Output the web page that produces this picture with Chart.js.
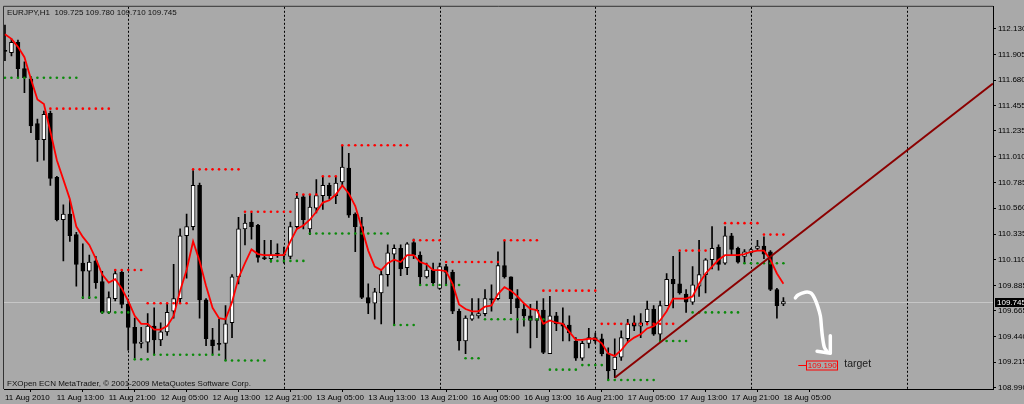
<!DOCTYPE html>
<html>
<head>
<meta charset="utf-8">
<script src="https://cdn.jsdelivr.net/npm/chart.js@4.4.0/dist/chart.umd.min.js"></script>
<style>
  html, body { margin: 0; padding: 0; background: #a9a9a9; }
  #wrap { width: 1024px; height: 404px; }
</style>
</head>
<body>
<div id="wrap"><canvas id="chart"></canvas></div>
<script>
// EURJPY H1, one candle per hour, bar 0 = 11 Aug 2010 05:00
const opens = [
  111.94,111.92,112.01,111.78,111.69,111.30,111.16,111.39,110.83,110.46,
  110.51,110.33,110.08,110.01,110.10,109.92,109.65,109.77,110.00,109.72,
  109.52,109.38,109.39,109.53,109.41,109.48,109.66,109.77,110.32,110.40,
  110.76,109.76,109.41,109.38,109.38,109.56,109.96,110.38,110.44,110.41,
  110.13,110.12,110.165,110.15,110.14,110.40,110.66,110.38,110.56,110.67,
  110.76,110.67,110.79,110.91,110.51,110.40,109.78,109.73,109.82,109.98,
  110.16,110.21,110.04,110.26,110.15,109.96,110.02,109.86,110.05,110.00,
  109.66,109.40,109.59,109.62,109.64,109.77,109.77,110.06,109.96,109.77,
  109.68,109.62,109.58,109.67,109.29,109.62,109.55,109.54,109.40,109.25,
  109.38,109.43,109.42,109.29,109.15,109.26,109.42,109.56,109.53,109.57,
  109.68,109.46,109.71,109.94,109.90,109.81,109.74,109.88,109.98,110.11,
  110.22,110.08,110.32,110.21,110.14,110.17,110.21,110.23,110.18,109.85,109.725
];
const highs = [
  112.16,112.04,112.03,111.84,111.71,111.34,111.41,111.41,110.84,110.59,
  110.63,110.35,110.25,110.15,110.14,110.01,109.83,110.02,110.02,109.75,
  109.60,109.52,109.64,109.69,109.56,109.73,110.07,110.38,110.51,110.89,
  110.78,109.77,109.51,109.59,109.71,109.98,110.48,110.51,110.52,110.42,
  110.28,110.28,110.25,110.22,110.44,110.70,110.68,110.68,110.81,110.84,
  110.78,110.84,111.11,111.04,110.52,110.48,109.90,109.86,110.02,110.24,
  110.24,110.24,110.26,110.29,110.18,110.08,110.08,110.08,110.07,110.02,
  109.68,109.62,109.77,109.77,109.85,109.89,110.18,110.27,109.96,109.85,
  109.73,109.72,109.75,109.77,109.79,109.65,109.69,109.62,109.43,109.40,
  109.51,109.47,109.46,109.34,109.42,109.49,109.59,109.62,109.64,109.75,
  109.71,109.75,109.99,110.14,110.18,109.85,110.05,110.28,110.12,110.40,
  110.24,110.40,110.34,110.22,110.20,110.21,110.28,110.31,110.19,109.86,109.78
];
const lows = [
  111.85,111.89,111.71,111.57,111.22,110.97,110.98,110.76,110.45,110.10,
  110.27,109.88,109.77,109.77,109.86,109.64,109.64,109.75,109.69,109.32,
  109.25,109.34,109.30,109.29,109.36,109.45,109.60,109.73,109.95,110.37,
  109.60,109.36,109.29,109.32,109.23,109.43,109.90,110.24,110.29,110.09,
  110.11,110.09,110.13,110.08,110.12,110.38,110.38,110.33,110.52,110.55,
  110.64,110.60,110.76,110.48,110.18,109.77,109.64,109.59,109.55,109.88,
  109.54,109.97,109.98,110.12,109.90,109.95,109.89,109.85,109.89,109.64,
  109.32,109.29,109.58,109.60,109.62,109.66,109.76,109.95,109.64,109.47,
  109.53,109.34,109.43,109.29,109.29,109.49,109.40,109.40,109.23,109.23,
  109.34,109.38,109.27,109.06,109.08,109.23,109.39,109.49,109.43,109.54,
  109.45,109.40,109.71,109.69,109.81,109.65,109.72,109.79,109.82,110.03,
  110.02,110.07,110.15,110.08,110.08,110.15,110.19,110.12,109.84,109.60,109.71
];
const closes = [
  111.93,112.01,111.78,111.70,111.28,111.16,111.38,110.82,110.46,110.51,
  110.32,110.07,110.01,110.09,109.91,109.65,109.78,109.99,109.72,109.52,
  109.38,109.39,109.53,109.41,109.48,109.65,109.77,110.32,110.40,110.76,
  109.76,109.42,109.36,109.37,109.55,109.96,110.38,110.43,110.40,110.13,
  110.12,110.15,110.16,110.16,110.40,110.65,110.46,110.57,110.67,110.76,
  110.67,110.78,110.92,110.50,110.40,109.78,109.73,109.83,109.98,110.17,
  110.21,110.03,110.25,110.15,109.96,110.02,109.91,110.05,110.00,109.66,
  109.40,109.60,109.63,109.64,109.77,109.76,110.06,109.96,109.77,109.69,
  109.62,109.58,109.67,109.30,109.62,109.55,109.53,109.47,109.25,109.38,
  109.43,109.40,109.29,109.14,109.26,109.43,109.55,109.53,109.56,109.68,
  109.46,109.71,109.94,109.90,109.82,109.74,109.89,109.98,110.11,110.21,
  110.07,110.32,110.20,110.09,110.18,110.20,110.23,110.16,109.85,109.71,109.745
];
// red moving average
const ma = [
  112.08,112.04,111.97,111.88,111.69,111.51,111.47,111.23,110.98,110.81,
  110.64,110.40,110.31,110.24,110.12,109.98,109.91,109.94,109.86,109.75,
  109.62,109.55,109.55,109.50,109.50,109.53,109.62,109.84,110.02,110.27,
  110.10,109.88,109.69,109.60,109.59,109.74,109.95,110.08,110.20,110.16,
  110.15,110.15,110.15,110.15,110.27,110.38,110.41,110.46,110.53,110.61,
  110.63,110.68,110.76,110.69,110.58,110.39,110.19,110.05,110.02,110.08,
  110.11,110.09,110.15,110.15,110.09,110.07,110.02,110.02,110.01,109.90,
  109.72,109.68,109.66,109.66,109.70,109.71,109.81,109.87,109.84,109.79,
  109.73,109.68,109.67,109.55,109.58,109.56,109.55,109.48,109.41,109.41,
  109.42,109.42,109.38,109.29,109.27,109.32,109.39,109.43,109.46,109.51,
  109.53,109.58,109.66,109.77,109.77,109.77,109.79,109.90,109.99,110.05,
  110.11,110.15,110.15,110.15,110.16,110.18,110.19,110.19,110.11,109.99,109.90
];
// dotted levels: [first bar, last bar, price]
const resLevels = [
  [7,16,111.43],[17,21,110.02],[22,28,109.73],[29,36,110.90],[37,44,110.53],
  [45,48,110.68],[49,51,110.84],[52,62,111.11],[63,67,110.28],[68,76,110.09],
  [77,82,110.28],[83,91,109.84],[92,103,109.55],[104,108,110.19],[111,116,110.43],
  [117,120,110.33]
];
const supLevels = [
  [0,11,111.70],[12,14,109.78],[15,19,109.65],[20,22,109.24],[23,33,109.28],
  [34,40,109.23],[41,46,110.10],[47,59,110.34],[60,63,109.54],[64,70,109.89],
  [71,73,109.25],[74,83,109.59],[84,88,109.15],[89,92,109.19],[93,100,109.06],
  [101,105,109.40],[106,113,109.65],[114,120,110.08]
];
const trendX = [94, 152.31];
const trendY = [109.08, 111.65];
// hand drawn white arrow (bar, price)
const arrowX = [121.85,122.20,122.88,123.65,124.27,124.77,125.28,125.70,125.85,126.00,126.31,126.82];
const arrowY = [109.777,109.800,109.818,109.829,109.818,109.777,109.705,109.619,109.533,109.447,109.346,109.302];
const headX = [125.19,127.23,127.23];
const headY = [109.311,109.294,109.447];
const targetPrice = 109.19;
const targetBar = 122.3;

const timeLabels = ['11 Aug 2010','11 Aug 13:00','11 Aug 21:00','12 Aug 05:00','12 Aug 13:00','12 Aug 21:00',
  '13 Aug 05:00','13 Aug 13:00','13 Aug 21:00','16 Aug 05:00','16 Aug 13:00','16 Aug 21:00',
  '17 Aug 05:00','17 Aug 13:00','17 Aug 21:00','18 Aug 05:00'];
const timeLabelBars = [0,8,16,24,32,40,48,56,64,72,80,88,96,104,112,120];
const daySeparators = [19,43,67,91,115,139];
const priceTicks = [112.130,111.905,111.680,111.455,111.235,111.010,110.785,110.560,
  110.335,110.110,109.885,109.665,109.440,109.215,108.990];

const BG = '#a9a9a9';
const FONT = "'Liberation Sans', Arial, sans-serif";
const lastPrice = closes[closes.length - 1];

function levelPoints(levels) {
  const pts = [];
  levels.forEach(([a, b, p]) => { for (let i = a; i <= b; i++) pts.push({ x: i, y: p }); });
  return pts;
}
const xy = (xs, ys) => xs.map((v, i) => ({ x: v, y: ys[i] }));

const mt4 = {
  id: 'mt4',
  beforeDraw(chart) {
    const { ctx, width, height } = chart;
    ctx.save();
    ctx.fillStyle = BG;
    ctx.fillRect(0, 0, width, height);
    ctx.restore();
  },
  beforeDatasetsDraw(chart) {
    const { ctx, chartArea: a, scales: { x, y } } = chart;
    ctx.save();
    ctx.lineWidth = 1;
    ctx.strokeStyle = '#000';
    ctx.setLineDash([2, 2]);
    daySeparators.forEach(d => {
      const px = Math.round(x.getPixelForValue(d)) + 0.5;
      ctx.beginPath(); ctx.moveTo(px, a.top); ctx.lineTo(px, a.bottom); ctx.stroke();
    });
    ctx.setLineDash([]);
    const py = Math.round(y.getPixelForValue(lastPrice)) + 0.5;
    ctx.strokeStyle = '#c6c6c6';
    ctx.beginPath(); ctx.moveTo(a.left, py); ctx.lineTo(a.right, py); ctx.stroke();
    ctx.restore();
  },
  afterDraw(chart) {
    const { ctx, chartArea: a, scales: { x, y } } = chart;
    ctx.save();
    ctx.strokeStyle = '#333';
    ctx.lineWidth = 1;
    ctx.beginPath();
    ctx.moveTo(a.left - 0.5, a.bottom); ctx.lineTo(a.left - 0.5, a.top - 0.5); ctx.lineTo(a.right, a.top - 0.5);
    ctx.stroke();

    ctx.textBaseline = 'middle';
    ctx.textAlign = 'left';
    ctx.font = '8px ' + FONT;
    ctx.fillStyle = '#111';
    ctx.fillText('EURJPY,H1  109.725 109.780 109.710 109.745', a.left + 3, a.top + 6);
    ctx.fillText('FXOpen ECN MetaTrader, \u00a9 2001-2009 MetaQuotes Software Corp.', a.left + 3, a.bottom - 5);

    // current price box on the axis
    const py = Math.round(y.getPixelForValue(lastPrice));
    ctx.fillStyle = '#000';
    ctx.fillRect(a.right + 2, py - 4, 31, 9);
    ctx.fillStyle = '#fff';
    ctx.fillText(lastPrice.toFixed(3), a.right + 4, py + 0.5);

    // target label
    const ty = Math.round(y.getPixelForValue(targetPrice)) + 0.5;
    const tx = x.getPixelForValue(targetBar);
    ctx.font = '8px ' + FONT;
    const tw = ctx.measureText(targetPrice.toFixed(3)).width;
    ctx.strokeStyle = '#ff0000';
    ctx.beginPath(); ctx.moveTo(tx, ty); ctx.lineTo(tx + 8, ty); ctx.stroke();
    ctx.strokeRect(Math.round(tx + 8) + 0.5, ty - 4.5, Math.round(tw + 2), 9);
    ctx.fillStyle = '#ff0000';
    ctx.fillText(targetPrice.toFixed(3), tx + 9.5, ty + 0.5);
    ctx.font = '10.5px ' + FONT;
    ctx.fillStyle = '#1a1a1a';
    ctx.fillText('target', tx + 8 + tw + 9, ty - 1);
    ctx.restore();
  }
};

Chart.defaults.font.family = FONT;
Chart.defaults.color = '#000';

new Chart(document.getElementById('chart'), {
  type: 'bar',
  data: {
    datasets: [
      {
        type: 'line', label: 'arrow', data: xy(arrowX, arrowY), order: 0,
        borderColor: '#ffffff', borderWidth: 3.5, borderCapStyle: 'round', borderJoinStyle: 'round',
        pointRadius: 0, tension: 0.3
      },
      {
        type: 'line', label: 'arrowhead', data: xy(headX, headY), order: 0,
        borderColor: '#ffffff', borderWidth: 3.5, borderCapStyle: 'round', borderJoinStyle: 'round',
        pointRadius: 0
      },
      {
        type: 'line', label: 'trend', data: xy(trendX, trendY), order: 1,
        borderColor: '#8b0000', borderWidth: 2, pointRadius: 0
      },
      {
        type: 'line', label: 'MA', data: ma.map((v, i) => ({ x: i, y: v })), order: 2,
        borderColor: '#ff0000', borderWidth: 1.8, pointRadius: 0, tension: 0
      },
      {
        type: 'line', label: 'resistance', data: levelPoints(resLevels), order: 3,
        showLine: false, pointRadius: 1.3, pointBorderWidth: 0, pointBackgroundColor: '#ff0000'
      },
      {
        type: 'line', label: 'support', data: levelPoints(supLevels), order: 3,
        showLine: false, pointRadius: 1.3, pointBorderWidth: 0, pointBackgroundColor: '#0b8a0b'
      },
      {
        label: 'body', order: 4, grouped: false, barThickness: 4, minBarLength: 1,
        data: opens.map((o, i) => ({ x: i, y: [o, closes[i]] })),
        backgroundColor: opens.map((o, i) => closes[i] >= o ? '#ffffff' : '#000000'),
        borderColor: '#000', borderWidth: 1, borderSkipped: false
      },
      {
        label: 'wick', order: 5, grouped: false, barThickness: 1,
        data: lows.map((l, i) => ({ x: i, y: [l, highs[i]] })),
        backgroundColor: '#000'
      }
    ]
  },
  options: {
    responsive: true,
    maintainAspectRatio: false,
    animation: false,
    devicePixelRatio: 1,
    layout: { padding: { top: 2, left: 2, right: 0, bottom: 0 } },
    plugins: { legend: { display: false }, tooltip: { enabled: false } },
    scales: {
      x: {
        type: 'linear', position: 'bottom', min: -0.15, max: 152.31, offset: false,
        grid: { drawOnChartArea: false, drawTicks: true, tickLength: 3, color: '#000' },
        border: { color: '#000' },
        afterBuildTicks: s => { s.ticks = timeLabelBars.map(v => ({ value: v })); },
        afterFit: s => { s.height = 15; },
        ticks: {
          autoSkip: false, maxRotation: 0, align: 'start', padding: 1,
          font: { size: 8 }, color: '#000',
          callback: v => { const k = timeLabelBars.indexOf(v); return k >= 0 ? timeLabels[k] : ''; }
        }
      },
      y: {
        type: 'linear', position: 'right', min: 108.981, max: 112.32,
        grid: { drawOnChartArea: false, drawTicks: true, tickLength: 3, color: '#000' },
        border: { color: '#000' },
        afterBuildTicks: s => { s.ticks = priceTicks.map(v => ({ value: v })); },
        afterFit: s => { s.width = 31; },
        ticks: { autoSkip: false, padding: 2, font: { size: 8 }, color: '#000', callback: v => v.toFixed(3) }
      }
    }
  },
  plugins: [mt4]
});
</script>
</body>
</html>
